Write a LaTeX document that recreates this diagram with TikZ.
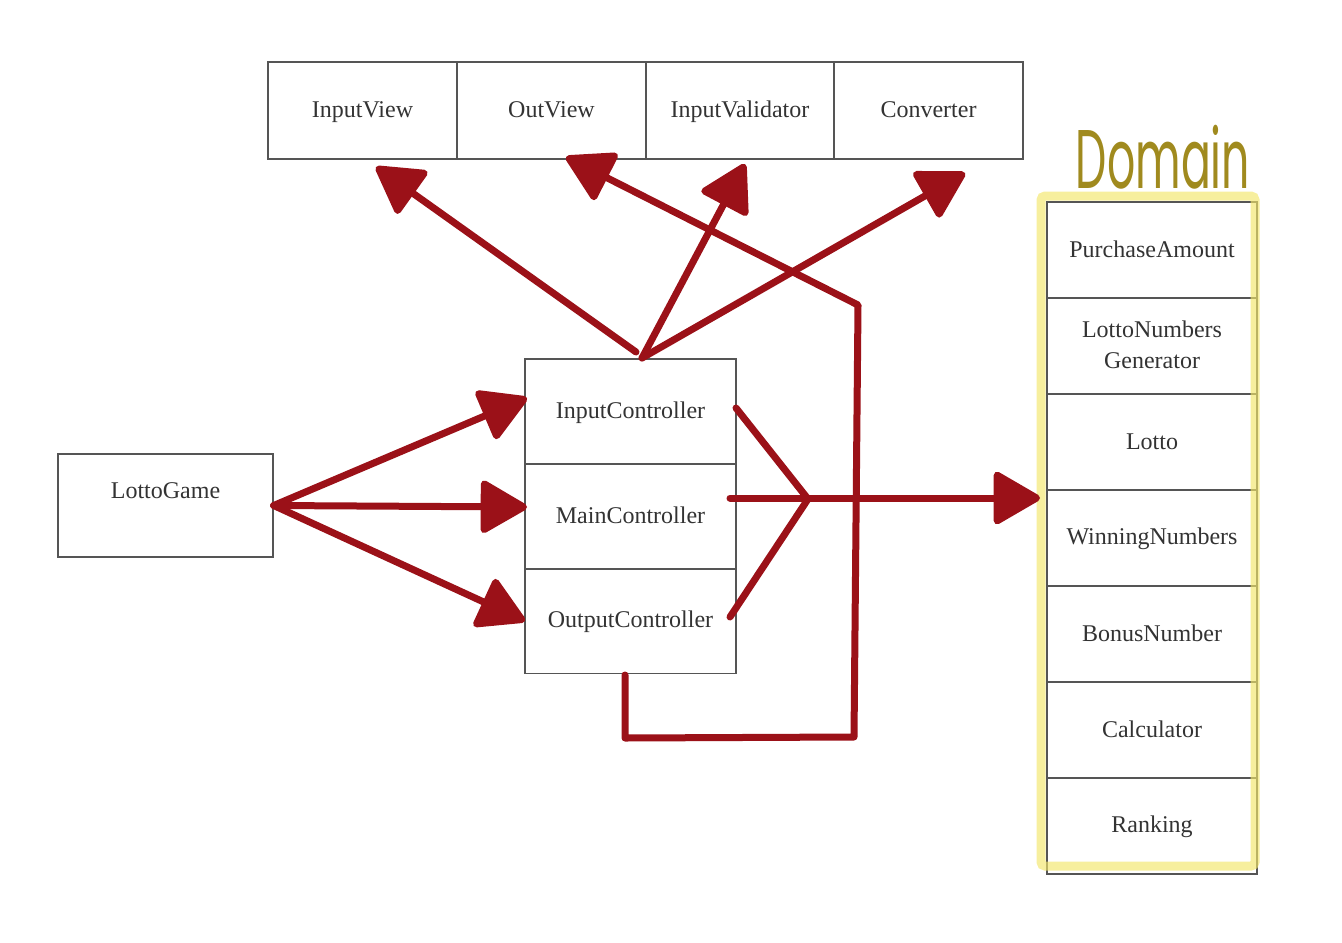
\documentclass[tikz,border=0pt]{standalone}
\usepackage{fontspec}
\usepackage{graphicx}
\setmainfont{Liberation Serif}
\newfontfamily\handfont{Poppins}
\usetikzlibrary{arrows.meta}
\definecolor{arrowred}{HTML}{9B1118}
\definecolor{boxgray}{HTML}{555555}
\definecolor{hilite}{HTML}{F3E66A}
\definecolor{olivehand}{HTML}{A08A1E}
\newcommand\boxstrut{\rule[-1.8pt]{0pt}{11pt}}

\begin{document}
\begin{tikzpicture}
  [x=0.5pt,y=-0.5pt,
   txt/.style={font=\fontsize{12}{15.5}\selectfont,text=black!80},
   box/.style={rectangle,draw=boxgray,line width=0.7pt,inner sep=0pt,align=center,txt,
     execute at begin node=\boxstrut,execute at end node=\boxstrut},
   viewbox/.style={box,minimum width=94.5pt,minimum height=48.5pt},
   ctrlbox/.style={box,minimum width=105.5pt,minimum height=52.5pt},
   dombox/.style={box,minimum width=105pt,minimum height=48pt},
   link/.style={draw=arrowred,line width=3.5pt,line cap=round,line join=round},
   linkarrow/.style={link,-{Triangle[length=25pt,width=28pt,round]}}]
  \useasboundingbox (0,0) rectangle (1342,942);

  % view layer
  \node[viewbox] (inview) at (362.5,110.5) {InputView};
  \node[viewbox] (outview) at (551.5,110.5) {OutView};
  \node[viewbox] (validator) at (740,110.5) {InputValidator};
  \node[viewbox] (converter) at (928.5,110.5) {Converter};

  % controllers
  \node[ctrlbox] (inctrl) at (630.5,411.5) {InputController};
  \node[ctrlbox] (mainctrl) at (630.5,516.5) {MainController};
  \node[ctrlbox] (outctrl) at (630.5,621) {OutputController};

  \node[box,minimum width=107.5pt,minimum height=51.5pt,
        label={[txt,yshift=7.5pt]center:LottoGame}] (game) at (165.5,505.5) {};

  % domain
  \foreach \name/\txt [count=\i] in {amount/PurchaseAmount,generator/{LottoNumbers\\Generator},
      lotto/Lotto,winning/WinningNumbers,bonus/BonusNumber,calc/Calculator,rank/Ranking}
    \node[dombox] (\name) at (1152,{154+96*\i}) {\txt};
  \draw[hilite,opacity=0.65,line width=4.5pt,rounded corners=2pt] (1041,196) rectangle (1255,866);
  \node[text=olivehand,font=\handfont\fontsize{26}{26}\selectfont] (domlabel) at (1163,157)
    {\scalebox{0.85}[1.6]{Domain}};

  % arrow ends
  \coordinate (hubL) at (636,352);
  \coordinate (hubR) at (642,358);
  \coordinate (tipIV) at (376,167);
  \coordinate (tipOV) at (566,157);
  \coordinate (tipVal) at (745,164);
  \coordinate (tipConv) at (965,173);
  \coordinate (tipIC) at (527,398);
  \coordinate (tipMC) at (527,507);
  \coordinate (tipOC) at (525,621);
  \coordinate (icR) at (736,408);
  \coordinate (mcR) at (730,498);
  \coordinate (ocR) at (730,617);
  \coordinate (merge) at (808,499);
  \coordinate (tipDom) at (1040,498);
  \coordinate (ocB) at (625,675);
  \coordinate (loopA) at (625,738);
  \coordinate (loopB) at (854,737);
  \coordinate (loopC) at (858,305);

  \foreach \from/\to in {hubL/tipIV,hubR/tipVal,hubR/tipConv,game.east/tipIC,
      game.east/tipMC,game.east/tipOC,mcR/tipDom}
    \draw[linkarrow] (\from) -- (\to);
  \draw[link] (icR) -- (merge) -- (ocR);
  \draw[linkarrow] (ocB) -- (loopA) -- (loopB) -- (loopC) -- (tipOV);
\end{tikzpicture}
\end{document}
